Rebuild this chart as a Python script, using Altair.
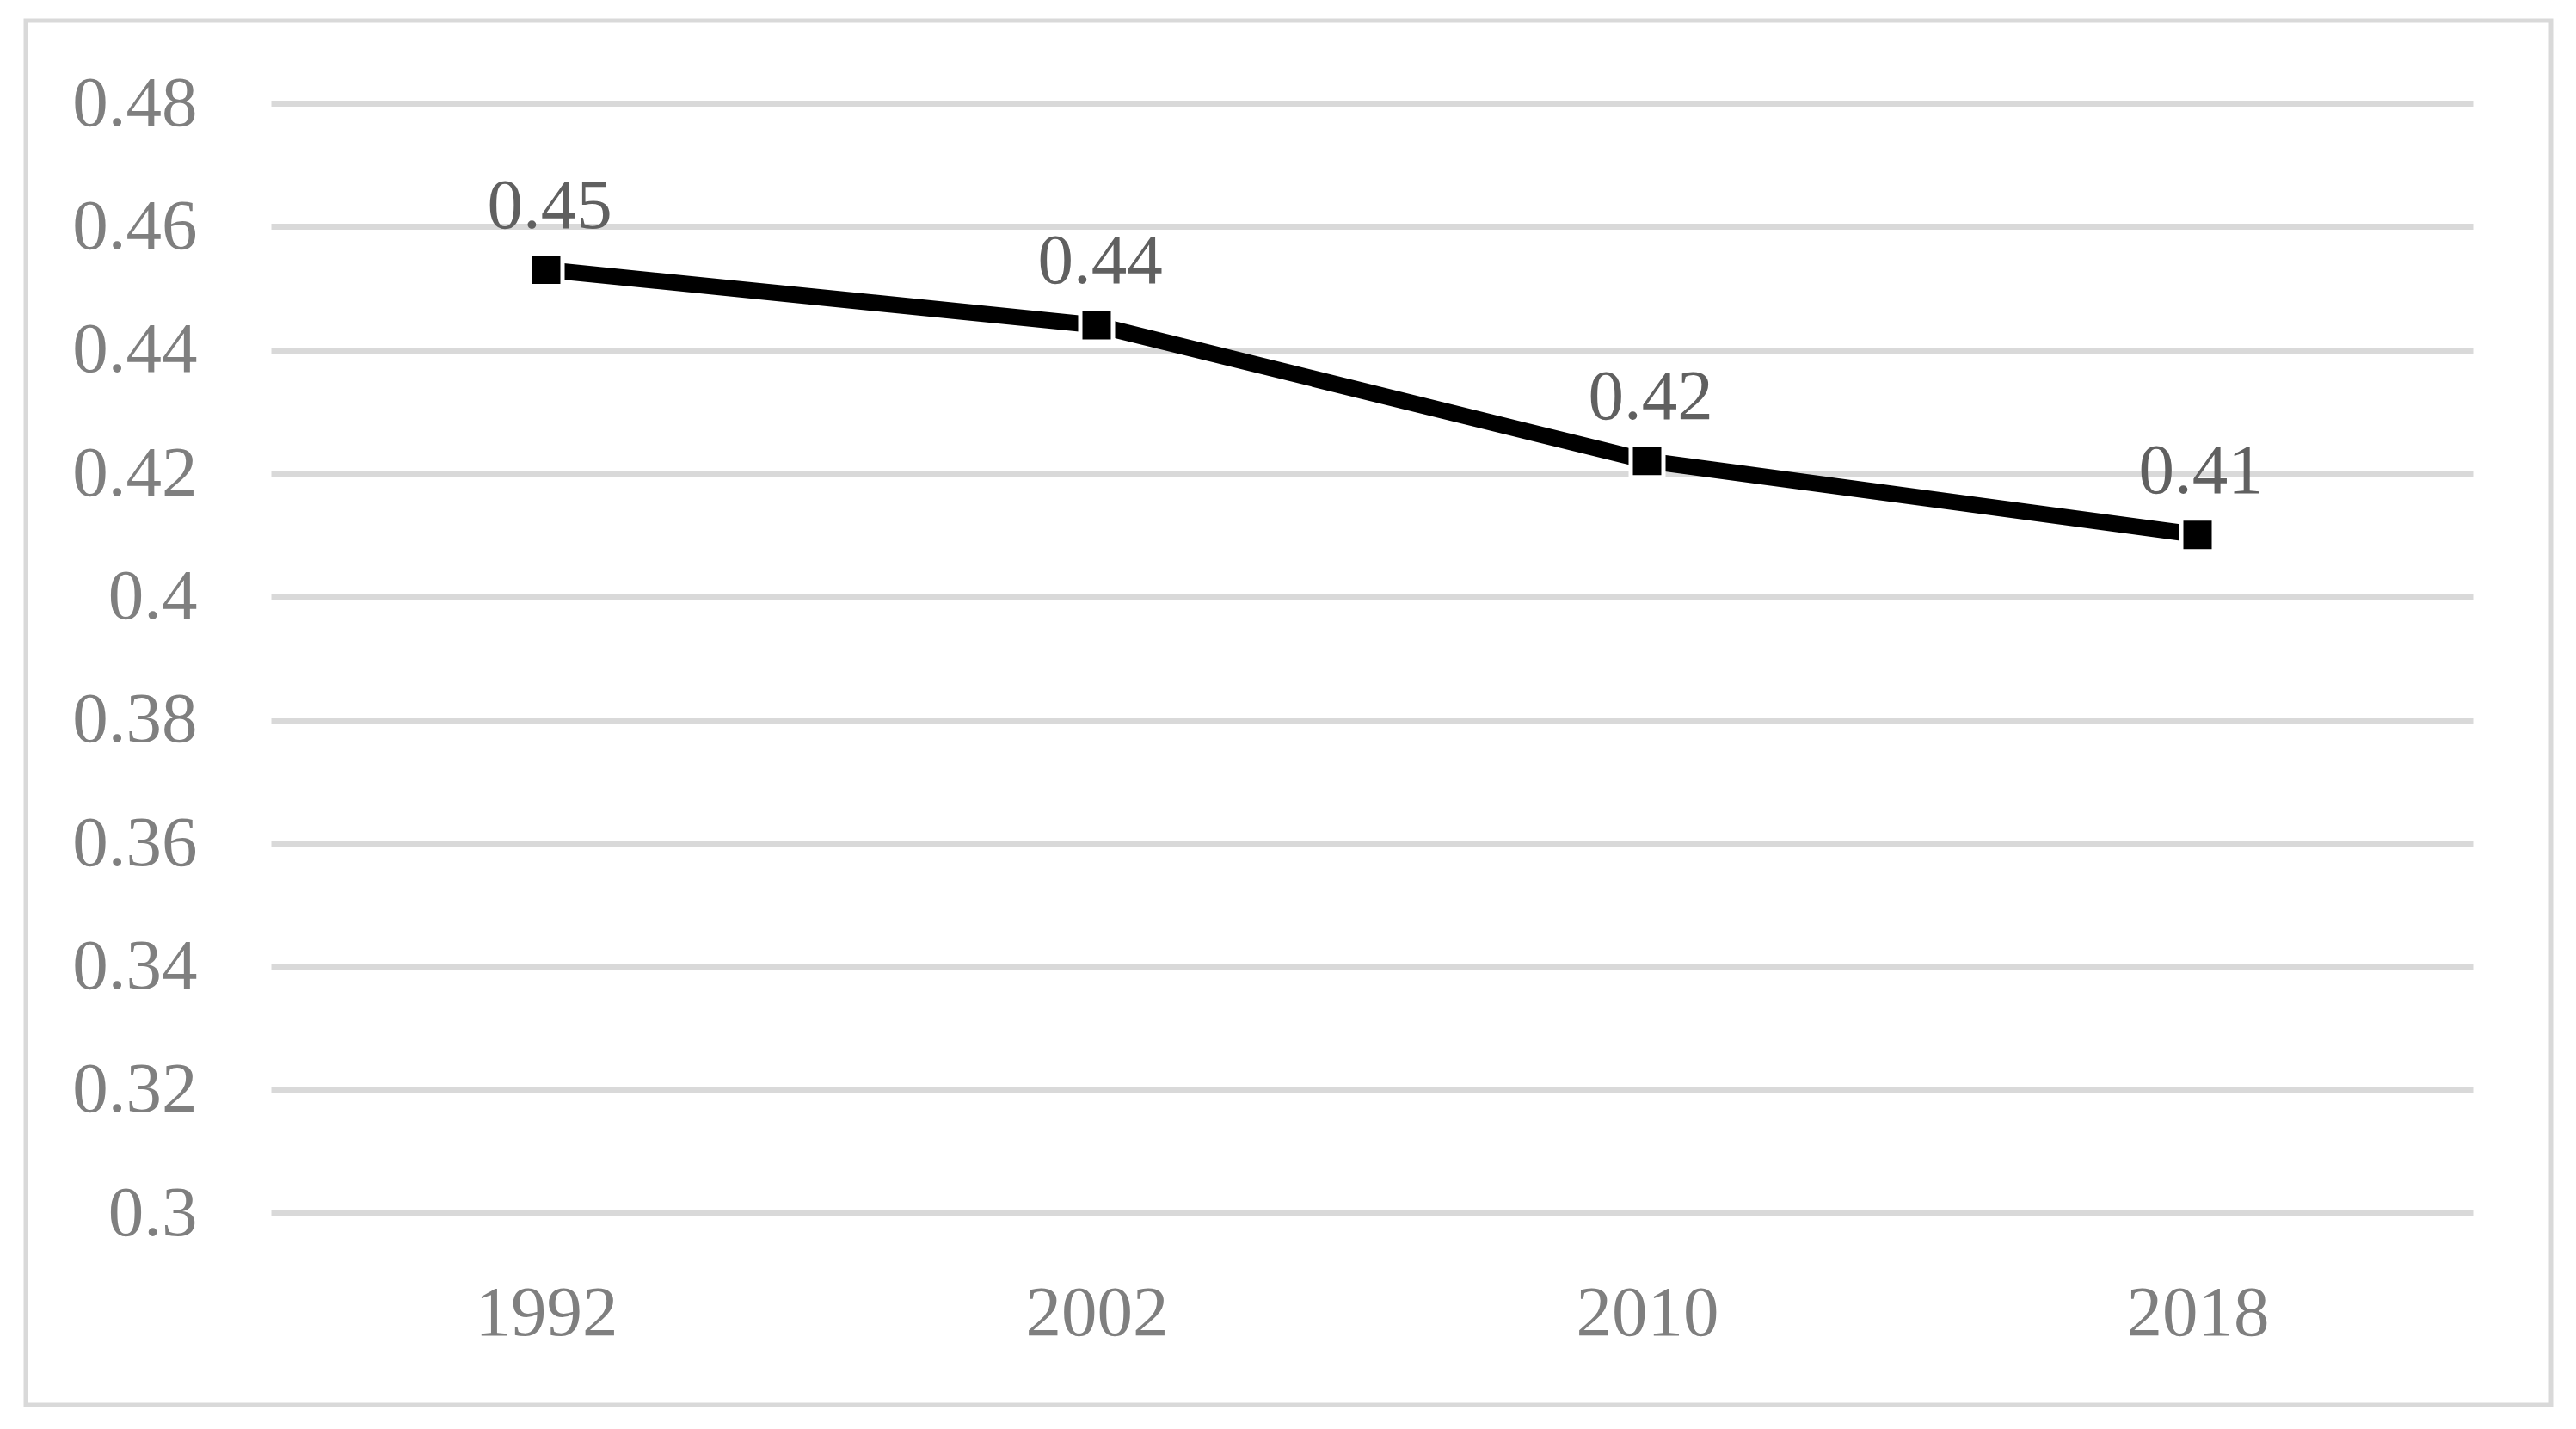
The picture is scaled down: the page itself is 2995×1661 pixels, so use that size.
import altair as alt
import pandas as pd

years = ["1992", "2002", "2010", "2018"]
values = [0.453, 0.444, 0.422, 0.410]
y_ticks = [0.30, 0.32, 0.34, 0.36, 0.38, 0.40, 0.42, 0.44, 0.46, 0.48]

df = pd.DataFrame({"year": years, "value": values})

FONT = "Liberation Serif"

x_enc = alt.X("year:O", sort=None,
              scale=alt.Scale(type="point", padding=0.5),
              axis=alt.Axis(title=None, labelAngle=0, domain=False, ticks=False, tickSize=0,
                            grid=False, labelFont=FONT, labelFontSize=83,
                            labelColor="#7f7f7f", labelPadding=116, labelBaseline="middle"))
y_enc = alt.Y("value:Q",
              scale=alt.Scale(domain=[0.30, 0.48], nice=False, zero=False),
              axis=alt.Axis(title=None, values=y_ticks, format=".2~f", domain=False,
                            ticks=False, tickSize=0, grid=True, gridColor="#d9d9d9",
                            gridWidth=7, labelFont=FONT, labelFontSize=83,
                            labelColor="#7f7f7f", labelPadding=86))

base = alt.Chart(df).encode(x=x_enc, y=y_enc)

line = base.mark_line(color="black", strokeWidth=19)
points = base.mark_point(shape="square", filled=True, size=1444, fill="black",
                         stroke="white", strokeWidth=5, opacity=1)
labels = base.mark_text(font=FONT, fontSize=83, color="#606060", dy=-74, dx=4,
                        baseline="middle", align="center").encode(
    text=alt.Text("value:Q", format=".2f"))

border = alt.Chart(pd.DataFrame({"a": [0]})).mark_rect(
    fillOpacity=0, stroke="#d9d9d9", strokeWidth=5).encode(
    x=alt.value(-285), x2=alt.value(2651), y=alt.value(-96), y2=alt.value(1513))

chart = alt.layer(border, line, points, labels).properties(
    width=2560, height=1290,
    autosize=alt.AutoSizeParams(type="none"),
    padding={"left": 307, "top": 112, "right": 100, "bottom": 238},
    background="white",
).configure_view(strokeWidth=0)

chart.save("out.html", embed_options={"renderer": "svg", "actions": False})
